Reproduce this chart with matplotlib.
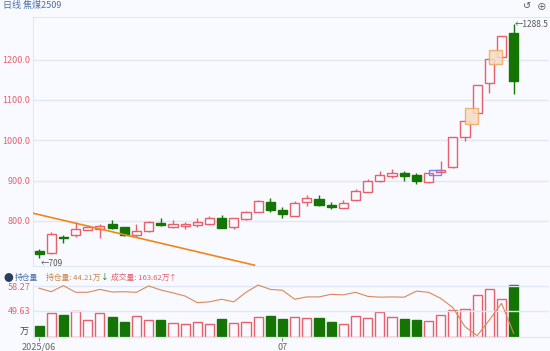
import matplotlib.pyplot as plt
import matplotlib.patches as mpatches

plt.rcParams['font.family'] = ['Noto Sans CJK SC', 'DejaVu Sans']

# daily OHLC, 焦煤2509
opens = [726, 720, 761, 765, 778, 779, 791, 784, 765, 775,
         794, 786, 788, 789, 793, 808, 784, 804, 822, 848,
         827, 813, 848, 855, 839, 833, 851, 872, 898, 912,
         918, 913, 897, 921, 933, 1007, 1068, 1143, 1206, 1266]
highs = [730, 773, 765, 796, 790, 793, 802, 786, 792, 800,
         808, 801, 798, 808, 812, 815, 807, 825, 852, 856,
         834, 849, 865, 863, 846, 852, 879, 904, 925, 928,
         924, 920, 920, 949, 1008, 1050, 1138, 1202, 1260, 1288.5]
lows = [709, 719, 744, 759, 777, 757, 780, 762, 761, 773,
        788, 782, 780, 786, 790, 782, 779, 803, 821, 823,
        807, 812, 838, 838, 830, 831, 850, 871, 897, 906,
        898, 892, 893, 920, 932, 999, 1067, 1118, 1205, 1114]
closes = [718, 768, 757, 779, 785, 787, 783, 766, 775, 797,
          789, 792, 793, 797, 807, 783, 806, 821, 849, 826,
          816, 845, 856, 840, 835, 845, 874, 899, 913, 920,
          912, 899, 919, 927, 1007, 1049, 1137, 1201, 1259, 1147]
# 成交量 (万)
volume = [34.8, 77.2, 70.9, 83.6, 55.1, 77.2, 62.4, 47.5, 66.5, 55.1,
          55.1, 45.6, 42.4, 48.7, 42.4, 57.0, 45.6, 47.5, 64.6, 66.5,
          58.2, 64.6, 59.2, 59.2, 47.5, 40.2, 67.7, 61.4, 78.2, 62.4,
          57.0, 52.9, 51.9, 70.9, 86.7, 89.9, 134.2, 151.0, 119.3, 163.6]
# 持仓量
holding = [57.5, 56.3, 58.4, 56.1, 56.1, 57.1, 56.2, 56.3, 56.1, 58.3,
           56.9, 55.9, 54.8, 52.5, 52.8, 53.7, 52.8, 56.1, 58.6, 57.1,
           56.8, 53.7, 54.5, 54.5, 55.4, 55.2, 56.1, 54.7, 54.4, 54.5,
           54.4, 56.5, 56.1, 54.0, 50.8, 44.2, 41.1, 46.5, 52.3, 41.9]

date_ticks = [0, 20]
date_labels = ["2025/06", "07"]
price_ticks = [800, 900, 1000, 1100, 1200]
hold_ticks = [49.63, 58.27]

trend_x = [-0.5, 17.7]
trend_y = [819, 690]

# highlight boxes: start index, low, high
orange_boxes = [(35.0, 1041, 1080), (37.0, 1190, 1224)]
blue_boxes = [(32.0, 914, 926)]

bg = '#f8faff'
grid = '#dfe8f4'
red = '#e8606c'
green = '#157504'
n = len(opens)

fig = plt.figure(figsize=(5.5, 3.51), dpi=100, facecolor=bg)
ax = fig.add_axes([33 / 550, 1 - 266 / 351, 516 / 550, 249 / 351], facecolor=bg)

for i in range(n):
    o, h, l, c = opens[i], highs[i], lows[i], closes[i]
    col = red if c >= o else green
    ax.vlines(i, l, h, color=col, lw=1, zorder=2)
    body = max(abs(c - o), 1.5)
    face = bg if c >= o else green
    ax.bar(i, body, bottom=min(o, c), width=0.75, color=face,
           edgecolor=col, linewidth=1, zorder=3)

for x0, lo, hi in orange_boxes:
    ax.add_patch(mpatches.Rectangle((x0, lo), 1.05, hi - lo, facecolor='#f6dcc4',
                                    edgecolor='#f0a860', lw=1, alpha=0.85, zorder=4))
for x0, lo, hi in blue_boxes:
    ax.add_patch(mpatches.Rectangle((x0, lo), 1.05, hi - lo, facecolor='none',
                                    edgecolor='#8080f0', lw=1, zorder=4))

ax.plot(trend_x, trend_y, color='#f0861a', lw=1.2, zorder=5, clip_on=True)

ax.set_xlim(-0.5, 41.9)
ax.set_ylim(688, 1306)
ax.set_yticks(price_ticks)
ax.set_yticklabels([f"{v:.1f}" for v in price_ticks], color=red, fontsize=6.5)
ax.set_xticks([])
ax.tick_params(axis='y', length=0, pad=2)
ax.grid(axis='y', color=grid, lw=1)
ax.set_axisbelow(True)
for s in ['left', 'top', 'bottom']:
    ax.spines[s].set_color(grid)
ax.spines['right'].set_visible(False)

imin = lows.index(min(lows))
imax = highs.index(max(highs))
ax.annotate(f"←{min(lows):g}", (imin, min(lows)), xytext=(1, -4),
            textcoords='offset points', fontsize=6, color='#555555', va='center')
ax.annotate(f"←{max(highs):g}", (imax, max(highs)), xytext=(1, 0),
            textcoords='offset points', fontsize=6, color='#555555', va='center')

# volume / holding panel
ax2 = fig.add_axes([33 / 550, 1 - 337 / 351, 516 / 550, 54 / 351], facecolor=bg)
axv = ax2.twinx()
ax2.set_zorder(axv.get_zorder() + 1)
ax2.patch.set_visible(False)
axv.patch.set_facecolor(bg)

for i in range(n):
    up = closes[i] >= opens[i]
    axv.bar(i, volume[i], width=0.75, color=bg if up else green,
            edgecolor=red if up else green, linewidth=1)
axv.set_ylim(0, 170.9)
axv.set_yticks([])
ax2.plot(range(n), holding, color='#d8895a', lw=0.8)
ax2.set_ylim(40.64, 59.31)
ax2.set_xlim(-0.5, 41.9)
ax2.set_yticks(hold_ticks)
ax2.set_yticklabels([f"{v:.2f}" for v in hold_ticks], color=red, fontsize=6.5)
ax2.tick_params(axis='y', length=0, pad=2)
ax2.grid(axis='y', color=grid, lw=1)
ax2.set_xticks(date_ticks)
ax2.set_xticklabels(date_labels, fontsize=6.5, color='#666666')
ax2.tick_params(axis='x', length=3, color='#888888', pad=1)
axv.set_xlim(-0.5, 41.9)
for a in (ax2, axv):
    for s in ['top', 'right', 'left']:
        a.spines[s].set_visible(False)
    a.spines['bottom'].set_color(grid)
ax2.spines['left'].set_visible(True)
ax2.spines['left'].set_color(grid)
fig.text(29 / 550, 1 - 332 / 351, "万", fontsize=6.5, color='#444444', ha='right', va='center')

# headers
fig.text(3 / 550, 1 - 5 / 351, "日线 焦煤2509", fontsize=6.5, color='#4a6fa5', va='center')
fig.text(527 / 550, 1 - 6 / 351, "↺", fontsize=7, color='#555555', ha='center', va='center')
fig.text(542 / 550, 1 - 6 / 351, "⊕", fontsize=7, color='#555555', ha='center', va='center')

hy = 1 - 278 / 351
fig.text(8 / 550, hy, "●", fontsize=7, color='#2c3e5c', ha='center', va='center')
fig.text(15 / 550, hy, "持仓量", fontsize=5.6, color='#4a6fa5', va='center')
fig.text(46 / 550, hy, "持仓量: 44.21万", fontsize=5.6, color='#c8864a', va='center')
fig.text(105 / 550, hy, "↓", fontsize=5.6, color=green, va='center', ha='center')
fig.text(111 / 550, hy, "成交量: 163.62万", fontsize=5.6, color=red, va='center')
fig.text(173 / 550, hy, "↑", fontsize=5.6, color=red, va='center', ha='center')

fig.savefig("out.png", dpi=100, facecolor=bg)
